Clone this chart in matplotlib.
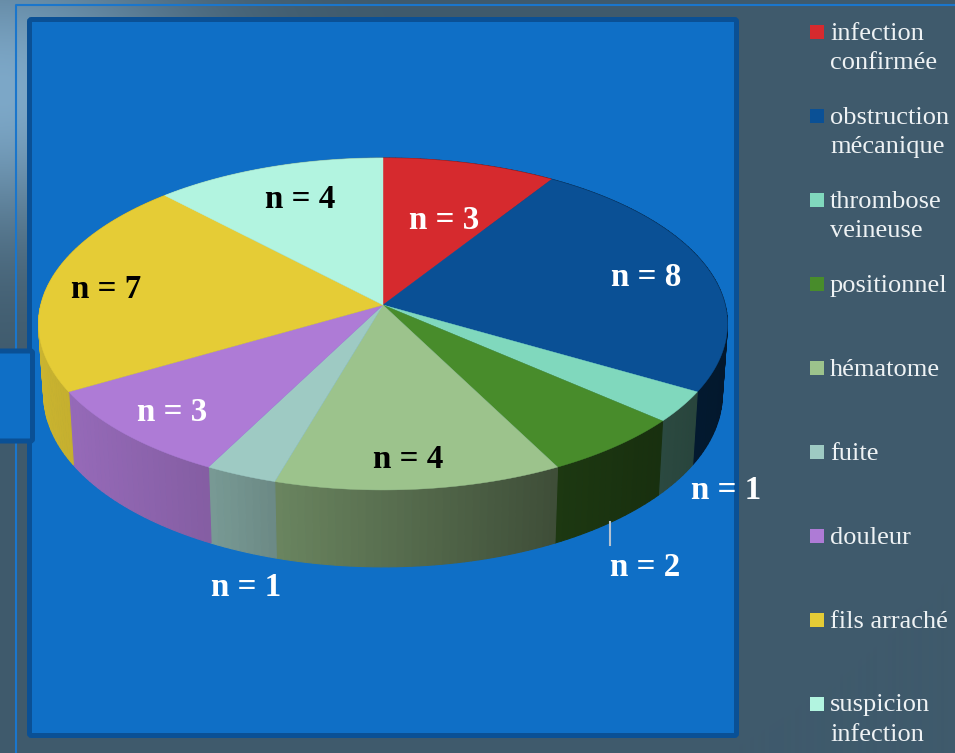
import matplotlib
matplotlib.use('Agg')
import matplotlib.pyplot as plt
from matplotlib.patches import Rectangle, FancyBboxPatch
from matplotlib.colors import to_rgb
import numpy as np

# valeurs
categories = ['infection\nconfirmée', 'obstruction\nmécanique', 'thrombose\nveineuse', 'positionnel',
              'hématome', 'fuite', 'douleur', 'fils arraché', 'suspicion\ninfection']
counts = [3, 8, 1, 2, 4, 1, 3, 7, 4]
colors = ['#d62a2e', '#0a5095', '#80d8bd', '#488c2b', '#9cc38c', '#9ecac3', '#ae7bd6', '#e5cc36', '#b2f4e0']
label_text_colors = ['white', 'white', 'white', 'white', 'black', 'white', 'white', 'black', 'black']

W, H = 955, 753
CX, CY = 383, 305
SX, SY, K = 342.2, 163.8, 0.1144


def project(theta):
    # cercle vu en perspective, theta depuis le haut, sens horaire
    x, y = np.sin(theta), np.cos(theta)
    w = 1 + K * y
    return x / w * SX, -y / w * SY


def top_rim(theta):
    dx, dy = project(theta)
    return CX + dx, CY + dy


def bottom_rim(theta):
    dx, dy = project(theta)
    return CX + dx * 0.985, CY + dy * 1.04 + 69.5


def shade(x):
    return np.interp(x, [40, 210, 275, 555, 730], [0.88, 0.76, 0.68, 0.40, 0.30])


fig = plt.figure(figsize=(W / 100, H / 100), dpi=100)
ax = fig.add_axes([0, 0, 1, 1])
ax.set_xlim(0, W)
ax.set_ylim(H, 0)
ax.axis('off')

# fond
yy, xx = np.mgrid[0:H, 0:W]
glow = np.exp(-((xx / 190.0) ** 2 + ((yy - 90) / 140.0) ** 2))
bg = np.zeros((H, W, 3))
for i, (base, extra) in enumerate(zip((63, 90, 108), (62, 78, 92))):
    bg[:, :, i] = (base + extra * glow) / 255
ax.imshow(bg, extent=(0, W, H, 0), aspect='auto', zorder=0)

# cadres
ax.plot([16, 16, W], [H, 5, 5], color='#1a76cc', lw=1.5, zorder=1)
ax.add_patch(FancyBboxPatch((29.5, 19.5), 707, 716, boxstyle='round,pad=0,rounding_size=2',
                            fc='#0f6fc6', ec='#0a5095', lw=3.6, zorder=2))
ax.add_patch(FancyBboxPatch((-10, 351), 42.5, 90, boxstyle='round,pad=0,rounding_size=2',
                            fc='#0f6fc6', ec='#0a5095', lw=3.6, zorder=3))

# camembert
edges = np.cumsum([0] + counts) / sum(counts) * 2 * np.pi

# parois
for v in range(len(counts)):
    t0, t1 = edges[v], edges[v + 1]
    n_strips = max(2, int((t1 - t0) / 0.02))
    ts = np.linspace(t0, t1, n_strips + 1)
    rgb = np.array(to_rgb(colors[v]))
    for a, b in zip(ts[:-1], ts[1:]):
        xa, ya = top_rim(a)
        xb, yb = top_rim(b)
        xc, yc = bottom_rim(b)
        xd, yd = bottom_rim(a)
        c = rgb * shade((xa + xb) / 2)
        ax.fill([xa, xb, xc, xd], [ya, yb, yc, yd], color=c, lw=0.8, zorder=4)

# dessus
for v in range(len(counts)):
    ts = np.linspace(edges[v], edges[v + 1], 80)
    px, py = top_rim(ts)
    ax.fill(np.r_[CX, px], np.r_[CY, py], color=colors[v], lw=0.3, zorder=5)

# trait de rappel
ax.plot([610, 610], [522, 545], color='#b4c2d0', lw=1.5, zorder=5)

# etiquettes
label_pos = [(444, 220), (646, 277), (726, 490), (645, 567), (408, 459),
             (246, 588), (172, 412), (106, 289), (300, 199)]
for n, col, (lx, ly) in zip(counts, label_text_colors, label_pos):
    ax.text(lx, ly, f'n = {n}', color=col, family='Liberation Serif', fontweight='bold',
            fontsize=23.8, ha='center', va='center', zorder=6)

# legende
for i, (name, col) in enumerate(zip(categories, colors)):
    yc = 32 + 84 * i
    ax.add_patch(Rectangle((810, yc - 7), 14, 14, fc=col, ec='none', zorder=6))
    for j, line in enumerate(name.split('\n')):
        ax.text(830, yc + 1.5 + j * 29.5, line, color='#eef2f4', family='Liberation Serif',
                fontsize=19, ha='left', va='center', zorder=6)

fig.savefig('out.png', dpi=100)
